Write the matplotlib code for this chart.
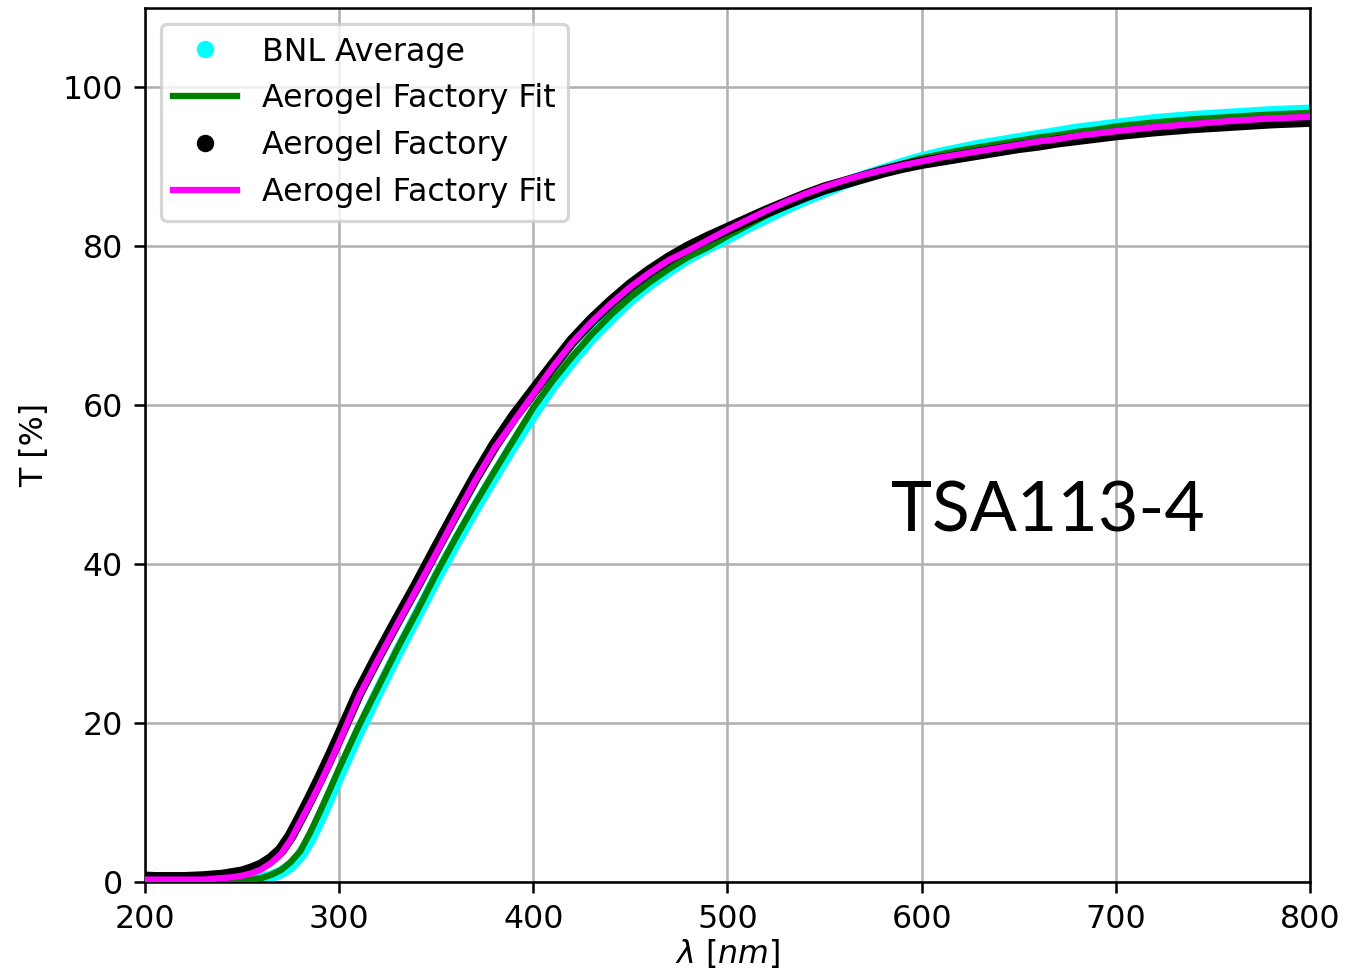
import matplotlib
matplotlib.use("Agg")
import matplotlib.pyplot as plt
from matplotlib.lines import Line2D

wl = [200, 210, 220, 230, 240, 245, 250, 255, 260, 265, 270, 275, 280, 285, 290, 295,
      300, 310, 320, 330, 340,
      350, 360, 370, 380, 390, 400, 410, 420, 430, 440, 450, 460, 470, 480, 490,
      500, 510, 520, 530, 540, 550, 560, 570, 580, 590, 600, 610, 620, 630, 640,
      650, 660, 670, 680, 690, 700, 720, 740, 760, 780, 800]

bnl_avg = [0.7, 0.3, 0.2, 0.1, 0.1, 0.1, 0.2, 0.3, 0.4, 0.7, 1.2, 2.0, 3.3, 5.3, 7.8, 10.6,
           13.4, 18.8, 23.9, 28.8, 33.5,
           38.2, 42.7, 47.0, 51.1, 55.1, 58.9, 62.5, 65.6, 68.5, 71.0, 73.3, 75.3, 77.0, 78.6, 79.9,
           81.1, 82.4, 83.6, 84.8, 85.9, 86.9, 87.9, 88.8, 89.6, 90.4, 91.1, 91.7, 92.2, 92.7, 93.1,
           93.5, 93.9, 94.3, 94.7, 95.0, 95.3, 95.9, 96.3, 96.6, 96.9, 97.1]

bnl_fit = [0.1, 0.1, 0.1, 0.1, 0.1, 0.1, 0.2, 0.3, 0.5, 0.9, 1.5, 2.5, 3.9, 6.2, 8.8, 11.5,
           14.3, 19.6, 24.5, 29.4, 34.0,
           38.8, 43.3, 47.6, 51.7, 55.7, 59.7, 63.1, 66.1, 68.9, 71.4, 73.6, 75.5, 77.2, 78.7, 79.9,
           81.3, 82.6, 83.9, 85.0, 86.0, 87.0, 88.0, 88.9, 89.7, 90.4, 91.1, 91.6, 92.1, 92.5, 92.9,
           93.3, 93.7, 94.0, 94.4, 94.7, 95.1, 95.6, 96.0, 96.3, 96.6, 96.8]

factory = [0.5, 0.5, 0.5, 0.6, 0.8, 1.0, 1.2, 1.6, 2.1, 2.9, 4.0, 5.8, 8.1, 10.5, 13.0, 15.6,
           18.3, 23.8, 28.5, 33.0, 37.4,
           42.0, 46.5, 50.9, 55.0, 58.6, 61.8, 65.0, 68.1, 70.7, 73.0, 75.1, 76.9, 78.5, 79.9, 81.1,
           82.2, 83.3, 84.4, 85.4, 86.4, 87.3, 88.0, 88.7, 89.4, 90.0, 90.5, 90.9, 91.3, 91.7, 92.1,
           92.5, 92.8, 93.2, 93.5, 93.8, 94.1, 94.6, 95.0, 95.3, 95.6, 95.8]

factory_fit = [0.3, 0.3, 0.3, 0.3, 0.5, 0.6, 0.8, 1.1, 1.6, 2.4, 3.5, 5.3, 7.6, 9.9, 12.3, 14.9,
               17.6, 23.3, 28.0, 32.5, 36.9,
               41.4, 46.0, 50.5, 54.6, 58.0, 61.4, 64.8, 67.9, 70.5, 72.8, 74.9, 76.7, 78.3, 79.5, 80.8,
               82.1, 83.3, 84.5, 85.6, 86.6, 87.5, 88.3, 89.0, 89.6, 90.2, 90.7, 91.2, 91.6, 92.0, 92.4,
               92.8, 93.2, 93.5, 93.9, 94.2, 94.5, 95.0, 95.4, 95.8, 96.1, 96.3]

labels = ["BNL Average", "Aerogel Factory Fit", "Aerogel Factory", "Aerogel Factory Fit"]
sample_name = "TSA113-4"

DPI = 228
fig = plt.figure(figsize=(1355 / DPI, 976 / DPI), dpi=DPI)
ax = fig.add_axes([0.1070, 0.0963, 0.8598, 0.8955])

ax.plot(wl, bnl_avg, color="cyan", lw=3.8, solid_capstyle="round", solid_joinstyle="round", zorder=2)
ax.plot(wl, bnl_fit, color="green", lw=2.0, zorder=3)
ax.plot(wl, factory, color="black", lw=3.8, solid_capstyle="round", solid_joinstyle="round", zorder=4)
ax.plot(wl, factory_fit, color="magenta", lw=2.0, zorder=5)

ax.set_xlim(200, 800)
ax.set_ylim(0, 110)
ax.set_xticks([200, 300, 400, 500, 600, 700, 800])
ax.set_yticks([0, 20, 40, 60, 80, 100])
ax.grid(True, color="#b0b0b0", lw=0.8)
ax.set_axisbelow(True)
ax.set_xlabel(r"$\lambda\ [nm]$", labelpad=0.5)
ax.set_ylabel("T [%]")

handles = [
    Line2D([], [], color="cyan", marker="o", ls="", markersize=4.5),
    Line2D([], [], color="green", lw=2.0),
    Line2D([], [], color="black", marker="o", ls="", markersize=4.5),
    Line2D([], [], color="magenta", lw=2.0),
]
ax.legend(handles, labels, loc="upper left")

ax.text(665, 46.6, sample_name, fontsize=22, family=["Lato", "DejaVu Sans"],
        ha="center", va="center")

fig.savefig("out.png", dpi=DPI)
